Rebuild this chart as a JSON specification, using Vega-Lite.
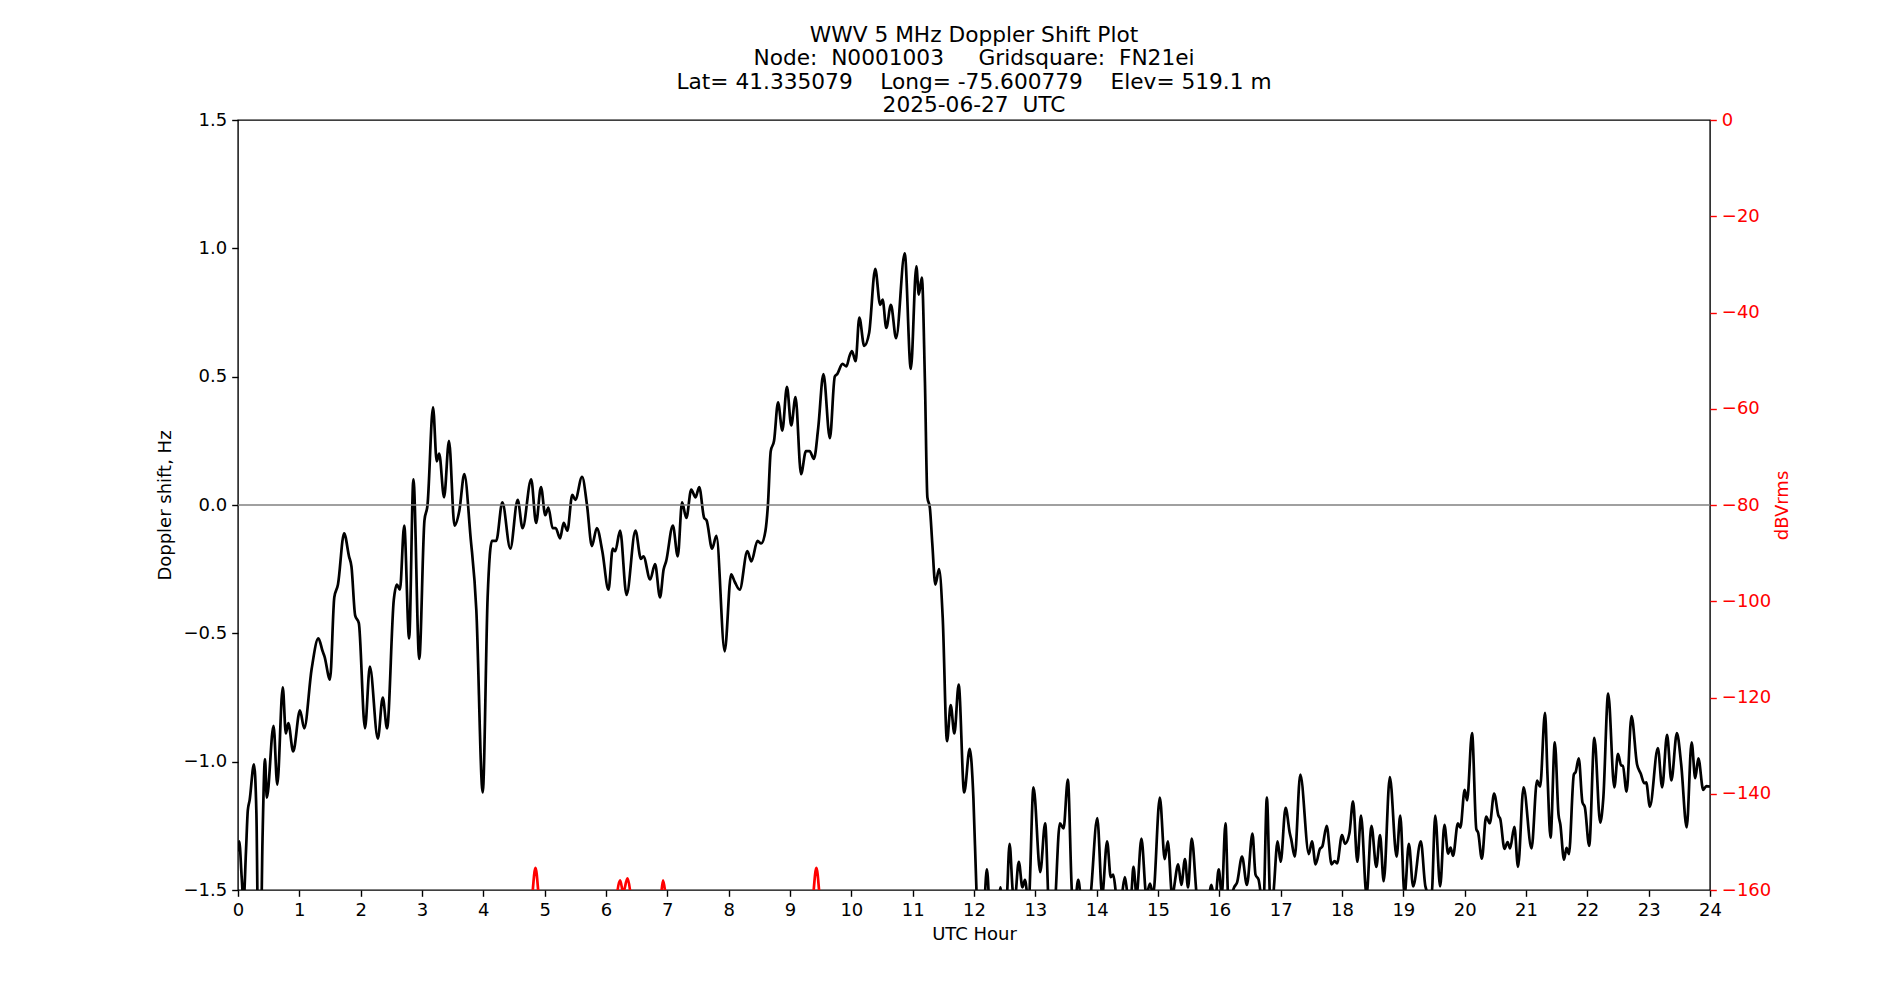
{
  "$schema": "https://vega.github.io/schema/vega-lite/v6.json",
  "width": 1472,
  "height": 770,
  "autosize": {"type": "none"},
  "padding": {"left": 238, "top": 120, "right": 190, "bottom": 110},
  "background": "white",
  "title": {
    "text": ["WWV 5 MHz Doppler Shift Plot", "Node:\u00a0\u00a0N0001003\u00a0\u00a0\u00a0\u00a0\u00a0Gridsquare:\u00a0\u00a0FN21ei", "Lat=\u00a041.335079\u00a0\u00a0\u00a0\u00a0Long=\u00a0-75.600779\u00a0\u00a0\u00a0\u00a0Elev=\u00a0519.1\u00a0m", "2025-06-27\u00a0\u00a0UTC"],
    "font": "DejaVu Sans",
    "fontSize": 21.7,
    "fontWeight": "normal",
    "lineHeight": 23.5,
    "offset": -6,
    "anchor": "middle",
    "color": "black"
  },
  "datasets": {
    "doppler": [
      {"h": 0.0, "v": -1.35}, {"h": 0.02, "v": -1.31}, {"h": 0.06, "v": -1.45}, {"h": 0.09, "v": -1.55}, {"h": 0.13, "v": -1.35},
      {"h": 0.16, "v": -1.19}, {"h": 0.19, "v": -1.15}, {"h": 0.26, "v": -1.01}, {"h": 0.3, "v": -1.2}, {"h": 0.33, "v": -1.7},
      {"h": 0.37, "v": -1.7}, {"h": 0.4, "v": -1.3}, {"h": 0.44, "v": -0.99}, {"h": 0.47, "v": -1.14}, {"h": 0.58, "v": -0.86},
      {"h": 0.64, "v": -1.09}, {"h": 0.73, "v": -0.71}, {"h": 0.78, "v": -0.89}, {"h": 0.82, "v": -0.85}, {"h": 0.9, "v": -0.96},
      {"h": 1.01, "v": -0.8}, {"h": 1.08, "v": -0.87}, {"h": 1.2, "v": -0.64}, {"h": 1.31, "v": -0.52}, {"h": 1.38, "v": -0.57},
      {"h": 1.41, "v": -0.59}, {"h": 1.5, "v": -0.68}, {"h": 1.57, "v": -0.36}, {"h": 1.63, "v": -0.31}, {"h": 1.73, "v": -0.11},
      {"h": 1.81, "v": -0.2}, {"h": 1.85, "v": -0.24}, {"h": 1.91, "v": -0.43}, {"h": 1.97, "v": -0.46}, {"h": 2.07, "v": -0.87},
      {"h": 2.15, "v": -0.63}, {"h": 2.28, "v": -0.91}, {"h": 2.36, "v": -0.75}, {"h": 2.43, "v": -0.87}, {"h": 2.54, "v": -0.37},
      {"h": 2.59, "v": -0.31}, {"h": 2.64, "v": -0.33}, {"h": 2.71, "v": -0.08}, {"h": 2.79, "v": -0.52}, {"h": 2.86, "v": 0.1},
      {"h": 2.955, "v": -0.6}, {"h": 3.04, "v": -0.06}, {"h": 3.09, "v": 0.0}, {"h": 3.18, "v": 0.38}, {"h": 3.24, "v": 0.17},
      {"h": 3.28, "v": 0.2}, {"h": 3.36, "v": 0.03}, {"h": 3.44, "v": 0.25}, {"h": 3.53, "v": -0.08}, {"h": 3.61, "v": -0.02},
      {"h": 3.69, "v": 0.12}, {"h": 3.79, "v": -0.12}, {"h": 3.886, "v": -0.41}, {"h": 3.99, "v": -1.12}, {"h": 4.07, "v": -0.36},
      {"h": 4.14, "v": -0.14}, {"h": 4.21, "v": -0.14}, {"h": 4.31, "v": 0.01}, {"h": 4.44, "v": -0.17}, {"h": 4.56, "v": 0.02},
      {"h": 4.64, "v": -0.09}, {"h": 4.78, "v": 0.1}, {"h": 4.86, "v": -0.07}, {"h": 4.94, "v": 0.07}, {"h": 5.01, "v": -0.04},
      {"h": 5.06, "v": -0.01}, {"h": 5.13, "v": -0.09}, {"h": 5.18, "v": -0.09}, {"h": 5.25, "v": -0.13}, {"h": 5.31, "v": -0.07},
      {"h": 5.37, "v": -0.1}, {"h": 5.45, "v": 0.04}, {"h": 5.5, "v": 0.02}, {"h": 5.61, "v": 0.11}, {"h": 5.69, "v": 0.0},
      {"h": 5.77, "v": -0.16}, {"h": 5.85, "v": -0.09}, {"h": 5.94, "v": -0.18}, {"h": 6.04, "v": -0.33}, {"h": 6.11, "v": -0.17},
      {"h": 6.15, "v": -0.18}, {"h": 6.23, "v": -0.1}, {"h": 6.335, "v": -0.35}, {"h": 6.48, "v": -0.1}, {"h": 6.57, "v": -0.21},
      {"h": 6.61, "v": -0.2}, {"h": 6.72, "v": -0.29}, {"h": 6.8, "v": -0.23}, {"h": 6.88, "v": -0.36}, {"h": 6.94, "v": -0.25},
      {"h": 6.98, "v": -0.22}, {"h": 7.09, "v": -0.08}, {"h": 7.17, "v": -0.2}, {"h": 7.24, "v": 0.01}, {"h": 7.31, "v": -0.05},
      {"h": 7.39, "v": 0.06}, {"h": 7.46, "v": 0.03}, {"h": 7.52, "v": 0.07}, {"h": 7.6, "v": -0.05}, {"h": 7.64, "v": -0.06},
      {"h": 7.73, "v": -0.17}, {"h": 7.8, "v": -0.12}, {"h": 7.935, "v": -0.57}, {"h": 8.04, "v": -0.27}, {"h": 8.1, "v": -0.3},
      {"h": 8.18, "v": -0.33}, {"h": 8.305, "v": -0.18}, {"h": 8.37, "v": -0.22}, {"h": 8.47, "v": -0.14}, {"h": 8.53, "v": -0.15},
      {"h": 8.6, "v": -0.1}, {"h": 8.64, "v": 0.0}, {"h": 8.686, "v": 0.21}, {"h": 8.74, "v": 0.25}, {"h": 8.805, "v": 0.4},
      {"h": 8.875, "v": 0.29}, {"h": 8.95, "v": 0.46}, {"h": 9.02, "v": 0.31}, {"h": 9.09, "v": 0.42}, {"h": 9.18, "v": 0.12},
      {"h": 9.26, "v": 0.21}, {"h": 9.32, "v": 0.21}, {"h": 9.39, "v": 0.18}, {"h": 9.46, "v": 0.3}, {"h": 9.545, "v": 0.51},
      {"h": 9.65, "v": 0.26}, {"h": 9.73, "v": 0.5}, {"h": 9.77, "v": 0.51}, {"h": 9.856, "v": 0.55}, {"h": 9.92, "v": 0.54},
      {"h": 9.97, "v": 0.58}, {"h": 10.01, "v": 0.6}, {"h": 10.07, "v": 0.56}, {"h": 10.13, "v": 0.73}, {"h": 10.21, "v": 0.62},
      {"h": 10.29, "v": 0.67}, {"h": 10.39, "v": 0.92}, {"h": 10.47, "v": 0.78}, {"h": 10.51, "v": 0.8}, {"h": 10.57, "v": 0.69},
      {"h": 10.645, "v": 0.78}, {"h": 10.73, "v": 0.65}, {"h": 10.87, "v": 0.98}, {"h": 10.97, "v": 0.53}, {"h": 11.06, "v": 0.93},
      {"h": 11.1, "v": 0.82}, {"h": 11.15, "v": 0.886}, {"h": 11.2, "v": 0.48}, {"h": 11.24, "v": 0.03}, {"h": 11.28, "v": -0.01},
      {"h": 11.32, "v": -0.15}, {"h": 11.37, "v": -0.31}, {"h": 11.43, "v": -0.25}, {"h": 11.49, "v": -0.44}, {"h": 11.56, "v": -0.92},
      {"h": 11.62, "v": -0.78}, {"h": 11.68, "v": -0.89}, {"h": 11.75, "v": -0.7}, {"h": 11.84, "v": -1.12}, {"h": 11.93, "v": -0.95},
      {"h": 11.99, "v": -1.14}, {"h": 12.04, "v": -1.5}, {"h": 12.1, "v": -1.75}, {"h": 12.16, "v": -1.6}, {"h": 12.21, "v": -1.42},
      {"h": 12.26, "v": -1.6}, {"h": 12.34, "v": -1.7}, {"h": 12.4, "v": -1.55}, {"h": 12.43, "v": -1.49}, {"h": 12.47, "v": -1.6},
      {"h": 12.53, "v": -1.55}, {"h": 12.58, "v": -1.32}, {"h": 12.63, "v": -1.5}, {"h": 12.66, "v": -1.55}, {"h": 12.73, "v": -1.39},
      {"h": 12.79, "v": -1.49}, {"h": 12.83, "v": -1.46}, {"h": 12.89, "v": -1.55}, {"h": 12.97, "v": -1.1}, {"h": 13.08, "v": -1.43},
      {"h": 13.16, "v": -1.24}, {"h": 13.23, "v": -1.6}, {"h": 13.3, "v": -1.6}, {"h": 13.4, "v": -1.24}, {"h": 13.46, "v": -1.26},
      {"h": 13.53, "v": -1.07}, {"h": 13.6, "v": -1.52}, {"h": 13.64, "v": -1.56}, {"h": 13.7, "v": -1.46}, {"h": 13.75, "v": -1.56},
      {"h": 13.83, "v": -1.7}, {"h": 13.91, "v": -1.5}, {"h": 14.01, "v": -1.22}, {"h": 14.09, "v": -1.52}, {"h": 14.17, "v": -1.31},
      {"h": 14.23, "v": -1.45}, {"h": 14.27, "v": -1.44}, {"h": 14.32, "v": -1.52}, {"h": 14.37, "v": -1.55}, {"h": 14.41, "v": -1.52},
      {"h": 14.46, "v": -1.45}, {"h": 14.51, "v": -1.52}, {"h": 14.56, "v": -1.52}, {"h": 14.6, "v": -1.41}, {"h": 14.65, "v": -1.52},
      {"h": 14.73, "v": -1.3}, {"h": 14.81, "v": -1.52}, {"h": 14.87, "v": -1.475}, {"h": 14.92, "v": -1.52}, {"h": 15.03, "v": -1.14},
      {"h": 15.11, "v": -1.38}, {"h": 15.16, "v": -1.31}, {"h": 15.23, "v": -1.52}, {"h": 15.33, "v": -1.4}, {"h": 15.38, "v": -1.48},
      {"h": 15.44, "v": -1.38}, {"h": 15.49, "v": -1.49}, {"h": 15.55, "v": -1.3}, {"h": 15.63, "v": -1.52}, {"h": 15.75, "v": -1.7},
      {"h": 15.87, "v": -1.48}, {"h": 15.93, "v": -1.55}, {"h": 15.99, "v": -1.42}, {"h": 16.04, "v": -1.52}, {"h": 16.1, "v": -1.24},
      {"h": 16.15, "v": -1.55}, {"h": 16.2, "v": -1.52}, {"h": 16.24, "v": -1.49}, {"h": 16.29, "v": -1.47}, {"h": 16.37, "v": -1.37},
      {"h": 16.45, "v": -1.48}, {"h": 16.54, "v": -1.28}, {"h": 16.59, "v": -1.44}, {"h": 16.64, "v": -1.46}, {"h": 16.68, "v": -1.52},
      {"h": 16.72, "v": -1.55}, {"h": 16.775, "v": -1.14}, {"h": 16.83, "v": -1.55}, {"h": 16.86, "v": -1.58}, {"h": 16.89, "v": -1.49},
      {"h": 16.95, "v": -1.31}, {"h": 17.0, "v": -1.39}, {"h": 17.08, "v": -1.18}, {"h": 17.15, "v": -1.28}, {"h": 17.17, "v": -1.3},
      {"h": 17.23, "v": -1.37}, {"h": 17.32, "v": -1.05}, {"h": 17.46, "v": -1.36}, {"h": 17.51, "v": -1.31}, {"h": 17.57, "v": -1.4},
      {"h": 17.64, "v": -1.34}, {"h": 17.68, "v": -1.33}, {"h": 17.75, "v": -1.25}, {"h": 17.83, "v": -1.4}, {"h": 17.88, "v": -1.387},
      {"h": 17.92, "v": -1.396}, {"h": 18.0, "v": -1.286}, {"h": 18.05, "v": -1.32}, {"h": 18.12, "v": -1.28}, {"h": 18.18, "v": -1.155},
      {"h": 18.25, "v": -1.39}, {"h": 18.31, "v": -1.21}, {"h": 18.4, "v": -1.52}, {"h": 18.48, "v": -1.25}, {"h": 18.56, "v": -1.41},
      {"h": 18.62, "v": -1.286}, {"h": 18.68, "v": -1.466}, {"h": 18.78, "v": -1.06}, {"h": 18.89, "v": -1.37}, {"h": 18.95, "v": -1.21},
      {"h": 19.02, "v": -1.52}, {"h": 19.09, "v": -1.32}, {"h": 19.16, "v": -1.486}, {"h": 19.285, "v": -1.31}, {"h": 19.36, "v": -1.486},
      {"h": 19.43, "v": -1.52}, {"h": 19.46, "v": -1.52}, {"h": 19.52, "v": -1.21}, {"h": 19.6, "v": -1.486}, {"h": 19.67, "v": -1.246},
      {"h": 19.73, "v": -1.358}, {"h": 19.77, "v": -1.335}, {"h": 19.81, "v": -1.367}, {"h": 19.89, "v": -1.24}, {"h": 19.93, "v": -1.257},
      {"h": 20.0, "v": -1.11}, {"h": 20.04, "v": -1.151}, {"h": 20.12, "v": -0.889}, {"h": 20.19, "v": -1.263}, {"h": 20.22, "v": -1.277},
      {"h": 20.28, "v": -1.378}, {"h": 20.35, "v": -1.214}, {"h": 20.41, "v": -1.24}, {"h": 20.48, "v": -1.124}, {"h": 20.55, "v": -1.21},
      {"h": 20.58, "v": -1.223}, {"h": 20.65, "v": -1.34}, {"h": 20.7, "v": -1.313}, {"h": 20.74, "v": -1.338}, {"h": 20.81, "v": -1.254},
      {"h": 20.87, "v": -1.41}, {"h": 20.96, "v": -1.1}, {"h": 21.09, "v": -1.338}, {"h": 21.18, "v": -1.074}, {"h": 21.23, "v": -1.097},
      {"h": 21.31, "v": -0.81}, {"h": 21.35, "v": -1.05}, {"h": 21.4, "v": -1.296}, {"h": 21.47, "v": -0.925}, {"h": 21.53, "v": -1.205},
      {"h": 21.56, "v": -1.245}, {"h": 21.62, "v": -1.382}, {"h": 21.66, "v": -1.336}, {"h": 21.7, "v": -1.36}, {"h": 21.78, "v": -1.05},
      {"h": 21.81, "v": -1.04}, {"h": 21.86, "v": -0.987}, {"h": 21.92, "v": -1.158}, {"h": 21.96, "v": -1.178}, {"h": 22.03, "v": -1.328},
      {"h": 22.115, "v": -0.907}, {"h": 22.21, "v": -1.238}, {"h": 22.26, "v": -1.144}, {"h": 22.34, "v": -0.735}, {"h": 22.44, "v": -1.1},
      {"h": 22.5, "v": -0.97}, {"h": 22.55, "v": -1.014}, {"h": 22.58, "v": -1.017}, {"h": 22.64, "v": -1.117}, {"h": 22.72, "v": -0.822},
      {"h": 22.81, "v": -1.01}, {"h": 22.87, "v": -1.046}, {"h": 22.93, "v": -1.084}, {"h": 22.96, "v": -1.081}, {"h": 23.02, "v": -1.175},
      {"h": 23.15, "v": -0.947}, {"h": 23.22, "v": -1.1}, {"h": 23.3, "v": -0.896}, {"h": 23.37, "v": -1.073}, {"h": 23.46, "v": -0.889},
      {"h": 23.53, "v": -1.01}, {"h": 23.62, "v": -1.256}, {"h": 23.7, "v": -0.925}, {"h": 23.76, "v": -1.064}, {"h": 23.81, "v": -0.987},
      {"h": 23.89, "v": -1.11}, {"h": 23.94, "v": -1.095}, {"h": 24.0, "v": -1.097}
    ],
    "power": [
      {"h": 0.0, "db": -170}, {"h": 4.75, "db": -170}, {"h": 4.8, "db": -161}, {"h": 4.85, "db": -155.4}, {"h": 4.9, "db": -161},
      {"h": 4.95, "db": -170}, {"h": 6.13, "db": -170}, {"h": 6.18, "db": -161}, {"h": 6.23, "db": -158}, {"h": 6.28, "db": -160.5},
      {"h": 6.35, "db": -157.6}, {"h": 6.4, "db": -161}, {"h": 6.45, "db": -170}, {"h": 6.85, "db": -170}, {"h": 6.9, "db": -161},
      {"h": 6.93, "db": -158}, {"h": 6.97, "db": -161}, {"h": 7.02, "db": -170}, {"h": 9.33, "db": -170}, {"h": 9.38, "db": -161},
      {"h": 9.43, "db": -155.4}, {"h": 9.48, "db": -161}, {"h": 9.53, "db": -170}, {"h": 24.0, "db": -170}
    ]
  },
  "layer": [
    {
      "data": {"name": "doppler"},
      "mark": {"type": "line", "color": "black", "strokeWidth": 2.7, "interpolate": "monotone", "clip": true},
      "encoding": {
        "x": {"field": "h", "type": "quantitative", "scale": {"domain": [0, 24], "nice": false, "zero": false},
              "axis": {"values": [0,1,2,3,4,5,6,7,8,9,10,11,12,13,14,15,16,17,18,19,20,21,22,23,24], "format": "d", "title": "UTC Hour", "titlePadding": 6}},
        "y": {"field": "v", "type": "quantitative", "scale": {"domain": [-1.5, 1.5], "nice": false, "zero": false},
              "axis": {"values": [-1.5, -1.0, -0.5, 0.0, 0.5, 1.0, 1.5], "format": ".1f", "title": "Doppler shift, Hz", "titlePadding": 8}}
      }
    },
    {
      "data": {"values": [{"z": 0}]},
      "mark": {"type": "rule", "color": "#808080", "strokeWidth": 1.3},
      "encoding": {
        "y": {"field": "z", "type": "quantitative", "scale": {"domain": [-1.5, 1.5], "nice": false, "zero": false}, "axis": null}
      }
    },
    {
      "data": {"name": "power"},
      "mark": {"type": "line", "color": "red", "strokeWidth": 2.7, "interpolate": "monotone", "clip": true},
      "encoding": {
        "x": {"field": "h", "type": "quantitative", "scale": {"domain": [0, 24], "nice": false, "zero": false},
              "axis": {"values": [0,1,2,3,4,5,6,7,8,9,10,11,12,13,14,15,16,17,18,19,20,21,22,23,24], "format": "d", "title": "UTC Hour", "titlePadding": 6}},
        "y": {"field": "db", "type": "quantitative", "scale": {"domain": [-160, 0], "nice": false, "zero": false},
              "axis": {"orient": "right", "values": [-160, -140, -120, -100, -80, -60, -40, -20, 0], "format": "d", "title": "dBVrms",
                       "titleAngle": 270, "titleColor": "red", "labelColor": "red", "tickColor": "red", "titlePadding": 21}}
      }
    }
  ],
  "resolve": {"scale": {"y": "independent", "x": "shared"}, "axis": {"y": "independent", "x": "shared"}},
  "config": {
    "font": "DejaVu Sans",
    "view": {"stroke": "black", "strokeWidth": 1.4},
    "axis": {
      "grid": false,
      "domain": false,
      "labelFont": "DejaVu Sans",
      "labelFontSize": 18,
      "labelColor": "black",
      "titleFont": "DejaVu Sans",
      "titleFontSize": 18,
      "titleFontWeight": "normal",
      "titleColor": "black",
      "tickColor": "black",
      "tickSize": 6.3,
      "tickWidth": 1.4,
      "labelPadding": 5,
      "labelFlush": false,
      "labelOverlap": false
    }
  }
}
